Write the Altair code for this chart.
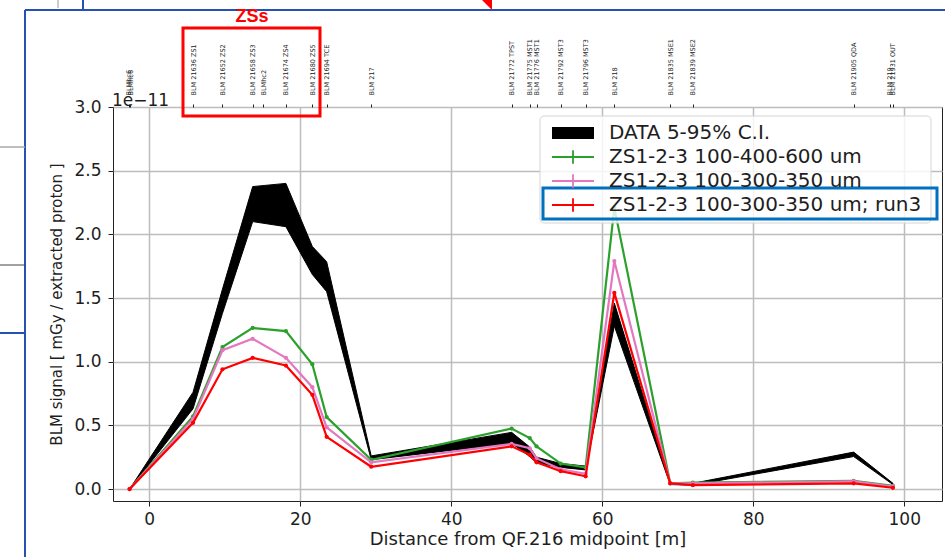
import altair as alt
import pandas as pd

# ---------------------------------------------------------------------------
# Beam-loss-monitor names along the line (top axis), position in metres
blm_pos = [-2.7, -2.5, 5.8, 9.7, 13.7, 15.1, 18.1, 21.6, 23.5, 29.4, 48.0, 50.4,
           51.3, 54.5, 57.8, 61.6, 69.0, 72.0, 93.3, 98.1, 98.5]
blm_names = ["BLMbc6", "BLMhc6", "BLM 21636 ZS1", "BLM 21652 ZS2", "BLM 21658 ZS3",
             "BLMhc2", "BLM 21674 ZS4", "BLM 21680 ZS5", "BLM 21694 TCE", "BLM 217",
             "BLM 21772 TPST", "BLM 21775 MST1", "BLM 21776 MST1", "BLM 21792 MST3",
             "BLM 21796 MST3", "BLM 218", "BLM 21835 MSE1", "BLM 21839 MSE2",
             "BLM 21905 QDA", "BLM 219", "BLM 21931 OUT"]

# Monitor positions with a reading [m]
pos = [-2.6, 5.8, 9.7, 13.7, 18.1, 21.6, 23.5, 29.4, 48.0, 50.4, 51.3, 54.5,
       57.8, 61.6, 69.0, 72.0, 93.3, 98.5]

# Measured signal, 5 % and 95 % bounds  [1e-11 mGy / extracted proton]
data_lo = [0.0, 0.63, 1.38, 2.10, 2.06, 1.685, 1.55, 0.23, 0.36, 0.255, 0.205,
           0.17, 0.15, 1.28, 0.035, 0.03, 0.255, 0.035]
data_hi = [0.0, 0.76, 1.57, 2.375, 2.40, 1.905, 1.785, 0.26, 0.445, 0.33, 0.25,
           0.20, 0.18, 1.46, 0.05, 0.045, 0.29, 0.045]

# Simulated signal for the three settings
sim_400_600 = [0.0, 0.57, 1.115, 1.265, 1.24, 0.98, 0.565, 0.23, 0.475, 0.40,
               0.335, 0.20, 0.17, 2.21, 0.045, 0.05, 0.065, 0.025]
sim_300_350 = [0.0, 0.55, 1.09, 1.18, 1.03, 0.80, 0.485, 0.21, 0.355, 0.32,
               0.24, 0.155, 0.12, 1.79, 0.045, 0.045, 0.06, 0.02]
sim_300_350_run3 = [0.0, 0.52, 0.94, 1.03, 0.97, 0.74, 0.41, 0.175, 0.335, 0.27,
                    0.21, 0.14, 0.10, 1.54, 0.045, 0.03, 0.045, 0.01]

series_names = ["DATA 5-95% C.I.", "ZS1-2-3 100-400-600 um",
                "ZS1-2-3 100-300-350 um", "ZS1-2-3 100-300-350 um; run3"]
series_colors = ["#000000", "#2ca02c", "#e377c2", "#ff0000"]

x_ticks = [0, 20, 40, 60, 80, 100]
y_ticks = [0.0, 0.5, 1.0, 1.5, 2.0, 2.5, 3.0]

# ---------------------------------------------------------------------------
W, H = 829, 394
LEFT, TOP = 113, 107
X_DOMAIN = [-4.8, 105.0]
Y_DOMAIN = [-0.094, 3.0]
FONT = "DejaVu Sans"
INK = "#1e1e1e"

band_df = pd.DataFrame({"x": pos, "lo": data_lo, "hi": data_hi})
sims = [(sim_400_600, series_colors[1]), (sim_300_350, series_colors[2]),
        (sim_300_350_run3, series_colors[3])]

color_scale = alt.Scale(domain=series_names, range=series_colors)

# legend glyphs: filled bar for the band, thin line with a cross bar for the runs
rect_path = "M-1,-0.85H5V0.85H-1Z"
plus_path = "M-1,-0.15H5V0.15H-1Z M1.87,-0.95H2.13V0.95H1.87Z"
shape_scale = alt.Scale(domain=series_names,
                        range=[rect_path, plus_path, plus_path, plus_path])

x_main = alt.X(
    "x:Q",
    scale=alt.Scale(domain=X_DOMAIN, nice=False, zero=False),
    axis=alt.Axis(values=x_ticks, format="d", title="Distance from QF.216 midpoint [m]",
                  labelFontSize=17, titleFontSize=18, tickSize=5, labelPadding=5,
                  titlePadding=3, labelFlush=False, grid=True),
)
y_scale = alt.Scale(domain=Y_DOMAIN, nice=False, zero=False)
y_axis = alt.Axis(values=y_ticks, format=".1f", title="BLM signal [ mGy / extracted proton ]",
                  labelFontSize=17, titleFontSize=15, tickSize=5, labelPadding=7,
                  titlePadding=9, labelFlush=False, grid=True)

band = alt.Chart(band_df).mark_area(color="black", stroke="black", strokeWidth=1).encode(
    x=x_main,
    y=alt.Y("lo:Q", scale=y_scale, axis=y_axis),
    y2="hi:Q",
)

layers = [band]
for vals, col in sims:
    df = pd.DataFrame({"x": pos, "y": vals})
    base = alt.Chart(df).encode(x=x_main, y=alt.Y("y:Q", scale=y_scale, axis=y_axis))
    layers.append(base.mark_line(strokeWidth=2.2, color=col))
    layers.append(base.mark_circle(size=18, opacity=1, color=col))

legend = alt.Legend(
    title=None, orient="none", legendX=427, legendY=7, padding=9,
    labelFont=FONT, labelFontSize=20, labelColor=INK, labelLimit=0,
    symbolSize=196, symbolStrokeWidth=0, symbolOpacity=1, labelOffset=40, rowPadding=4,
)
legend_src = pd.DataFrame({"series": series_names})
legend_layer = alt.Chart(legend_src).mark_point(filled=True, opacity=1).encode(
    x=alt.value(-3000),
    y=alt.value(-3000),
    color=alt.Color("series:N", scale=color_scale, legend=legend),
    shape=alt.Shape("series:N", scale=shape_scale, legend=legend),
)
layers.append(legend_layer)

main = alt.layer(*layers)

# top axis naming every monitor
label_expr = "''"
for p, n in reversed(list(zip(blm_pos, blm_names))):
    label_expr = f"datum.value === {p} ? '{n}' : ({label_expr})"

top = alt.Chart(pd.DataFrame({"x": blm_pos})).mark_point(opacity=0).encode(
    x=alt.X(
        "x:Q",
        scale=alt.Scale(domain=X_DOMAIN, nice=False, zero=False),
        axis=alt.Axis(orient="top", values=blm_pos, labelExpr=label_expr,
                      labelAngle=270, labelAlign="left", labelBaseline="middle",
                      labelFontSize=6.5, labelPadding=9, tickSize=3, grid=False,
                      title=None, labelOverlap=False, labelFlush=False,
                      labelBound=False, labelColor="#222"),
    )
)

# ---------------------------------------------------------------------------
one = pd.DataFrame({"k": [0]})


def px(x):
    return x - LEFT


def py(y):
    return y - TOP


offset_text = alt.Chart(one).mark_text(
    text="1e\u221211", font=FONT, fontSize=17, align="left", baseline="alphabetic", color=INK
).encode(x=alt.value(px(112)), y=alt.value(py(106)))


def box(x0, y0, x1, y1, color, width, fill=None, radius=0):
    props = dict(stroke=color, strokeWidth=width, cornerRadius=radius)
    if fill is None:
        props["fillOpacity"] = 0
    else:
        props["fill"] = fill
    return alt.Chart(one).mark_rect(**props).encode(
        x=alt.value(px(x0)), x2=alt.value(px(x1)), y=alt.value(py(y0)), y2=alt.value(py(y1))
    )


def seg(x0, y0, x1, y1, color, width):
    return alt.Chart(one).mark_rule(color=color, strokeWidth=width).encode(
        x=alt.value(px(x0)), x2=alt.value(px(x1)), y=alt.value(py(y0)), y2=alt.value(py(y1))
    )


SLIDE_BLUE = "#2650b4"
decor = [
    seg(25, 10, 25, 557, SLIDE_BLUE, 2),
    seg(25, 10, 945, 10, SLIDE_BLUE, 2),
    seg(0, 147, 25, 147, "#a8a8a8", 1.5),
    seg(0, 265, 25, 265, "#444444", 1),
    seg(0, 333, 25, 333, SLIDE_BLUE, 2),
    seg(58, 0, 58, 8, "#999999", 1),
    seg(83, 0, 83, 9, SLIDE_BLUE, 2),
    alt.Chart(one).mark_point(shape="M-1,-1L1,-1L1,1Z", filled=True, color="#ff0000",
                              size=144, opacity=1)
    .encode(x=alt.value(px(486)), y=alt.value(py(4))),
    box(183, 28, 320, 116, "#ff0000", 3),
    alt.Chart(one).mark_text(text="ZSs", font="Liberation Sans Narrow, Liberation Sans",
                             fontSize=18, fontWeight="bold", color="#ff0000",
                             align="center", baseline="middle")
    .encode(x=alt.value(px(252)), y=alt.value(py(17))),
    # translucent legend frame
    box(540, 116, 931, 223, "#d4d4d4", 1, fill="rgba(255,255,255,0.82)", radius=4),
    box(543, 188, 937, 219, "#0070c0", 3),
]

chart = (
    alt.layer(main, top, offset_text, *decor)
    .resolve_scale(x="independent")
    .properties(
        width=W, height=H,
        autosize=alt.AutoSizeParams(type="none"),
        padding={"left": LEFT, "top": TOP, "right": 945 - LEFT - W, "bottom": 557 - TOP - H},
        background="white",
    )
    .configure_axis(labelFont=FONT, titleFont=FONT, labelColor=INK, titleColor=INK,
                    tickColor=INK, gridColor="#bdbdbd", gridWidth=1.5, domain=False,
                    titleFontWeight="normal")
    .configure_view(stroke="#222222", strokeWidth=1)
)

chart.save("out.html", embed_options={"renderer": "svg", "actions": False})
